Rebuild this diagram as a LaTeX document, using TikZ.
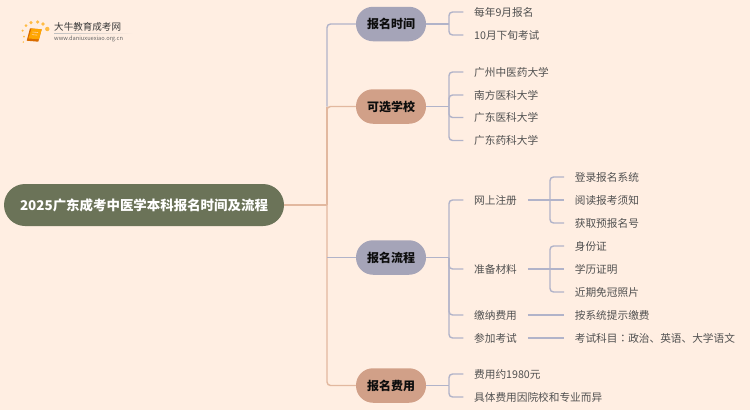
\documentclass[tikz,border=0pt]{standalone}
\usepackage{fontspec}
\setmainfont{Noto Sans CJK SC}
\newfontfamily\tcfont{Noto Sans CJK TC}
\usetikzlibrary{calc}
\definecolor{bgc}{HTML}{FFEEE2}
\definecolor{blueln}{HTML}{B1B3C9}
\definecolor{orgln}{HTML}{E2B89F}
\definecolor{bluep}{HTML}{A5A4B8}
\definecolor{orgp}{HTML}{D1A088}
\definecolor{rootc}{HTML}{6B7358}
\definecolor{txtc}{HTML}{505050}
\tikzset{
  x=1pt,y=-1pt,
  rootnode/.style={rounded corners=21pt,fill=rootc,text=white,font=\fontsize{13.45}{15}\selectfont\bfseries,minimum width=280pt,minimum height=42pt,inner sep=0pt},
  pill/.style={rounded corners=17pt,minimum width=70pt,minimum height=34.5pt,inner sep=0pt,text=black!95,font=\fontsize{12}{14}\selectfont\bfseries},
  leaf/.style={anchor=west,inner xsep=10.7pt,inner ysep=0pt,text=txtc,font=\fontsize{10.67}{12}\selectfont},
  bl/.style={draw=blueln,line width=1.4pt,rounded corners=3.5pt},
  ol/.style={draw=orgln,line width=1.4pt,rounded corners=3.5pt},
}
\begin{document}
\begin{tikzpicture}
\fill[bgc] (0,0) rectangle (750,410);
\useasboundingbox (0,0) rectangle (750,410);
% logo
\foreach \p/\r in {{23.3,42}/.8,{24,36.6}/1,{22.6,30.6}/1.2,{26,25.6}/1.5,{31,22.6}/1.7,{37.6,22}/1.8,{43,24}/1.9,{47.3,29}/2.2}
  \fill[orange!70!yellow,opacity=.7] (\p) circle (\r);
\fill[orange!85!black] (30,28.3) -- (41.7,29.3) -- (38.3,41.7) -- (26.7,40.7) -- cycle;
\fill[orange!70!yellow] (31.5,28.6) -- (41.7,29.3) -- (39,39.3) -- (28.5,38.5) -- cycle;
\draw[orange!35!white,line width=.6pt] (32.5,32)--(38,32.5) (31.8,34.6)--(37.3,35.1);
\shade[left color=black!25,right color=bgc] (54,33.2) rectangle (133,33.8);
\node[anchor=west,inner sep=0pt,text=black!78,font=\fontsize{9.55}{11}\selectfont] (logot) at (54,27) {大牛教育成考网};
\node[anchor=west,inner sep=0pt,text=black!60,font=\fontsize{5.7}{7}\selectfont] (logou) at (54,39) {www.daniuxuexiao.org.cn};
% nodes
\node[rootnode] (root) at (144,205) {2025广东成考中医学本科报名时间及流程};
\node[pill,fill=bluep] (a) at (391,24) {报名时间};
\node[pill,fill=orgp] (b) at (391,106.5) {可选学校};
\node[pill,fill=bluep] (c) at (391,257.5) {报名流程};
\node[pill,fill=orgp] (d) at (391,385.5) {报名费用};
\coordinate (tk) at (327,205);
\node[leaf] (a1) at (463.3,12) {每年9月报名};
\node[leaf] (a2) at (463.3,35) {10月下旬考试};
\node[leaf] (b1) at (463.3,72) {广州中医药大学};
\node[leaf] (b2) at (463.3,95) {南方医科大学};
\node[leaf] (b3) at (463.3,117.5) {广东医科大学};
\node[leaf] (b4) at (463.3,140.5) {广东药科大学};
\node[leaf] (c1) at (463.3,200) {网上注册};
\node[leaf] (c2) at (463.3,269) {准备材料};
\node[leaf] (c3) at (463.3,315) {缴纳费用};
\node[leaf] (c4) at (463.3,338) {参加考试};
\node[leaf] (d1) at (463.3,374) {费用约1980元};
\node[leaf] (d2) at (463.3,397) {具体费用因院校和专业而异};
\node[leaf] (e1) at (564,177) {登录报名系统};
\node[leaf] (e2) at (564,200) {阅读报考须知};
\node[leaf] (e3) at (564,223) {获取预报名号};
\node[leaf] (f1) at (564,246) {身份证};
\node[leaf] (f2) at (564,269) {学历证明};
\node[leaf] (f3) at (564,292) {近期免冠照片};
\node[leaf] (g1) at (564,315) {按系统提示缴费};
\node[leaf] (h1) at (564,338) {考试科目{\tcfont：}政治、英语、大学语文};
% trunk
\draw[ol] (root.east) -- (tk);
\draw[ol] (b.west) -| (tk);
\draw[ol] (d.west) -| (tk);
\draw[bl] (a.west) -| (tk |- b.west);
\draw[ol,rounded corners=0pt] (tk |- b.west) -- (tk);
\draw[bl] (c.west) -- (tk |- c.west);
% second level
\foreach \p/\y/\list in {a/24/{a1,a2},b/106.5/{b1,b2,b3,b4},c/257.5/{c1,c2,c3,c4},d/385.5/{d1,d2}}{
  \coordinate (sp\p) at (449,\y);
  \draw[bl] (\p.east) -- (sp\p);
  \foreach \q in \list { \draw[bl] (sp\p) |- (\q.west); }
}
% third level
\coordinate (spc1) at (550,200);
\coordinate (spc2) at (550,269);
\draw[bl] (c1.east) -- (e2.west);
\draw[bl] (c2.east) -- (f2.west);
\draw[bl] (spc1) |- (e1.west);
\draw[bl] (spc1) |- (e3.west);
\draw[bl] (spc2) |- (f1.west);
\draw[bl] (spc2) |- (f3.west);
\draw[bl] (c3.east) -- (g1.west);
\draw[bl] (c4.east) -- (h1.west);
\end{tikzpicture}
\end{document}
